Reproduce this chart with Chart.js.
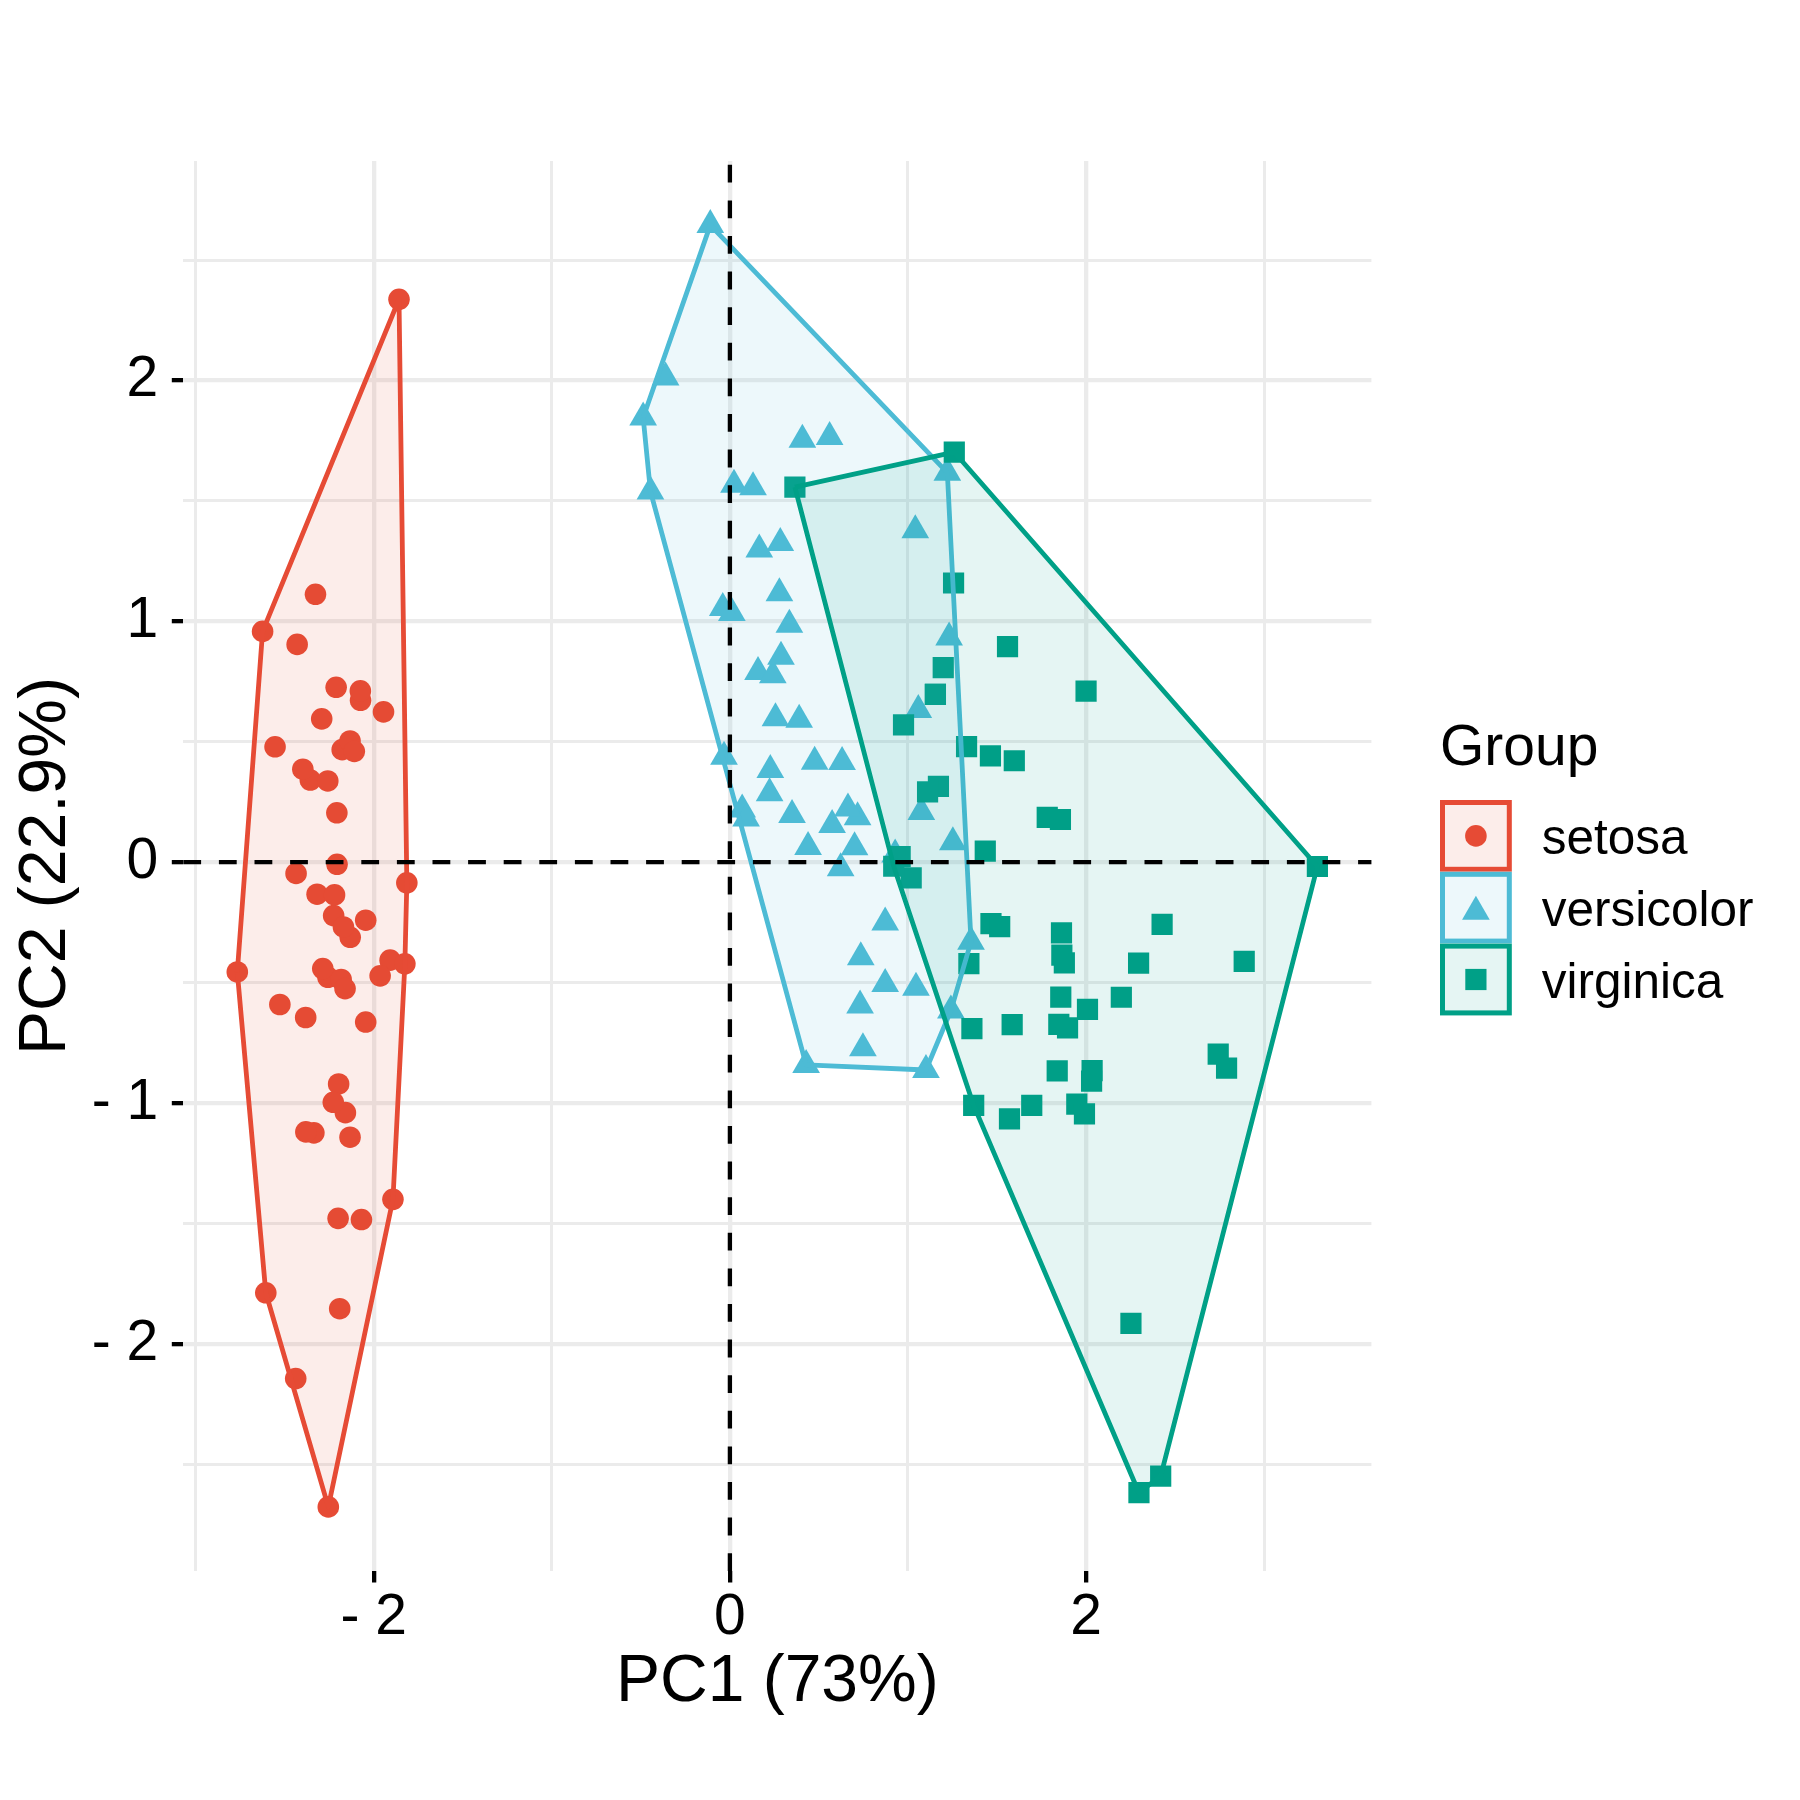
<!DOCTYPE html>
<html>
<head>
<meta charset="utf-8">
<script src="https://cdn.jsdelivr.net/npm/chart.js@4.4.0/dist/chart.umd.min.js"></script>
<style>
html,body{margin:0;padding:0;background:#ffffff;}
#c{display:block;}
</style>
</head>
<body>
<canvas id="c" width="1800" height="1800"></canvas>
<script>
// ---------------- data ----------------
const groups = ['setosa', 'versicolor', 'virginica'];

const setosaPC1 = [-2.257,-2.074,-2.356,-2.292,-2.382,-2.069,-2.436,-2.225,-2.327,-2.177,
  -2.159,-2.318,-2.211,-2.624,-2.191,-2.255,-2.200,-2.183,-1.892,-2.336,
  -1.908,-2.197,-2.766,-1.814,-2.220,-1.945,-2.045,-2.161,-2.132,-2.258,
  -2.133,-1.825,-2.606,-2.438,-2.109,-2.207,-2.045,-2.527,-2.430,-2.170,
  -2.286,-1.858,-2.554,-1.964,-2.133,-2.075,-2.381,-2.398,-2.227,-2.206];
const setosaPC2 = [-0.478,0.672,0.341,0.595,-0.645,-1.484,-0.047,-0.222,1.112,0.467,
  -1.040,-0.133,0.726,0.958,-1.854,-2.677,-1.479,-0.487,-1.400,-1.124,
  -0.407,-0.921,-0.456,-0.086,-0.136,0.624,-0.241,-0.525,-0.312,0.337,
  0.503,-0.422,-1.788,-2.144,0.460,0.205,-0.664,-0.591,0.904,-0.269,
  -0.442,2.337,0.479,-0.472,-1.142,0.711,-1.120,0.386,-0.997,-0.009];

const versicolorPC1 = [1.101,0.731,1.241,0.407,1.075,0.389,0.747,-0.487,0.928,0.011,
  -0.110,0.439,0.560,0.717,-0.033,0.872,0.349,0.158,1.221,0.165,
  0.735,0.476,1.231,0.630,0.700,0.872,1.252,1.354,0.663,-0.040,
  0.130,0.023,0.241,1.058,0.223,0.428,1.045,1.041,0.069,0.283,
  0.278,0.622,0.334,-0.361,0.287,0.091,0.227,0.574,-0.446,0.256];
const versicolorPC2 = [-0.863,-0.595,-0.616,1.754,0.208,0.591,-0.773,1.846,0.032,1.034,
  2.645,0.063,1.765,0.186,0.438,-0.506,0.196,0.789,1.617,1.298,
  -0.395,0.417,0.933,0.416,0.062,-0.251,0.083,-0.330,0.223,1.055,
  1.557,1.567,0.776,0.632,0.286,-0.842,-0.521,1.378,0.219,1.325,
  1.116,-0.025,0.986,2.012,0.853,0.181,0.383,0.154,1.539,0.597];

const virginicaPC1 = [1.838,1.154,2.198,1.434,1.862,2.742,0.365,2.295,2.000,2.252,
  1.359,1.597,1.878,1.256,1.463,1.585,1.466,2.419,3.299,1.260,
  2.031,0.975,2.888,1.329,1.695,1.948,1.171,1.018,1.782,1.858,
  2.427,2.297,1.856,1.110,1.198,2.789,1.570,1.342,0.920,1.847,
  2.008,1.896,1.154,2.034,1.991,1.864,1.559,1.515,1.369,0.956];
const virginicaPC2 = [-0.867,0.697,-0.561,0.046,-0.294,-0.797,1.557,-0.419,0.710,-1.915,
  -0.691,0.421,-0.418,1.159,0.441,-0.675,-0.255,-2.549,-0.018,1.702,
  -0.909,0.570,-0.412,0.480,-1.010,-1.005,0.315,-0.065,0.186,-0.560,
  -0.258,-2.618,0.177,0.292,0.808,-0.855,-1.066,-0.421,-0.017,-0.674,
  -0.611,-0.688,0.697,-0.866,-1.045,-0.386,0.895,-0.268,-1.010,0.023];

const xMajorTicks = [-2, 0, 2];
const xMajorLabels = ['- 2', '0', '2'];
const xMinorTicks = [-3, -1, 1, 3];
const yMajorTicks = [-2, -1, 0, 1, 2];
const yMajorLabels = ['- 2', '- 1', '0', '1', '2'];
const yMinorTicks = [-2.5, -1.5, -0.5, 0.5, 1.5, 2.5];
const refLineX = 0;
const refLineY = 0;
const xTitle = 'PC1 (73%)';
const yTitle = 'PC2 (22.9%)';
const legendTitle = 'Group';

// ---------------- styles ----------------
const FONT = "'Liberation Sans', Arial, Helvetica, sans-serif";
const colors = ['#E64B35', '#4DBBD5', '#00A087'];
const fills = ['rgba(230,75,53,0.1)', 'rgba(77,187,213,0.1)', 'rgba(0,160,135,0.1)'];
const shapes = ['circle', 'triangle', 'rect'];
const radii = [10.8, 16, 15];

const series = [[setosaPC1, setosaPC2], [versicolorPC1, versicolorPC2], [virginicaPC1, virginicaPC2]];
const pts = series.map(([xs, ys]) => xs.map((x, i) => ({x: x, y: ys[i]})));

function convexHull(points) {
  const p = points.map(d => ({x: d.x, y: d.y})).sort((a, b) => a.x - b.x || a.y - b.y);
  const cross = (o, a, b) => (a.x - o.x) * (b.y - o.y) - (a.y - o.y) * (b.x - o.x);
  const lower = [];
  for (const q of p) {
    while (lower.length >= 2 && cross(lower[lower.length - 2], lower[lower.length - 1], q) <= 0) lower.pop();
    lower.push(q);
  }
  const upper = [];
  for (let i = p.length - 1; i >= 0; i--) {
    const q = p[i];
    while (upper.length >= 2 && cross(upper[upper.length - 2], upper[upper.length - 1], q) <= 0) upper.pop();
    upper.push(q);
  }
  upper.pop(); lower.pop();
  const h = lower.concat(upper);
  h.push({x: h[0].x, y: h[0].y});
  return h;
}

// axis limits: data range expanded by 5% on each side
const allX = [].concat(setosaPC1, versicolorPC1, virginicaPC1);
const allY = [].concat(setosaPC2, versicolorPC2, virginicaPC2);
const xr = [Math.min(...allX), Math.max(...allX)];
const yr = [Math.min(...allY), Math.max(...allY)];
const xpad = (xr[1] - xr[0]) * 0.05, ypad = (yr[1] - yr[0]) * 0.05;

const datasets = [];
groups.forEach((g, i) => {
  datasets.push({
    type: 'line', label: g + ' hull', data: convexHull(pts[i]),
    borderColor: colors[i], backgroundColor: fills[i], borderWidth: 4.8,
    borderJoinStyle: 'round', fill: 'shape', tension: 0,
    pointRadius: 0, pointHoverRadius: 0, order: 2 - i
  });
  datasets.push({
    type: 'scatter', label: g, data: pts[i],
    pointStyle: shapes[i], pointRadius: radii[i], pointHoverRadius: radii[i],
    backgroundColor: colors[i], borderColor: colors[i], borderWidth: 0,
    order: 12 - i
  });
});

const isIn = (arr, v) => arr.some(a => Math.abs(a - v) < 1e-9);

const refLines = {
  id: 'refLines',
  afterDatasetsDraw(chart) {
    const {ctx, chartArea: a, scales: {x, y}} = chart;
    const px = x.getPixelForValue(refLineX), py = y.getPixelForValue(refLineY);
    ctx.save();
    ctx.strokeStyle = '#000000';
    ctx.lineWidth = 4.3;
    ctx.lineCap = 'butt';
    ctx.setLineDash([17.8, 17.8]);
    ctx.beginPath(); ctx.moveTo(a.left, py); ctx.lineTo(a.right, py); ctx.stroke();
    ctx.beginPath(); ctx.moveTo(px, a.bottom); ctx.lineTo(px, a.top); ctx.stroke();
    ctx.restore();
  }
};

const legendPlugin = {
  id: 'groupLegend',
  afterDraw(chart) {
    const {ctx, chartArea: a} = chart;
    const left = a.right + 68.6;
    const box = 71.8;
    const top0 = (a.top + a.bottom) / 2 - 66;
    ctx.save();
    ctx.fillStyle = '#000000';
    ctx.textAlign = 'left';
    ctx.textBaseline = 'alphabetic';
    ctx.font = '57px ' + FONT;
    ctx.fillText(legendTitle, left, top0 - 35);
    groups.forEach((g, i) => {
      const top = top0 + i * box;
      ctx.fillStyle = '#ffffff';
      ctx.fillRect(left, top, box, box);
      ctx.fillStyle = fills[i];
      ctx.fillRect(left, top, box, box);
      ctx.strokeStyle = colors[i];
      ctx.lineWidth = 5;
      ctx.setLineDash([]);
      ctx.strokeRect(left + 2.5, top + 2.5, box - 5, box - 5);
      ctx.fillStyle = colors[i];
      const r = radii[i];
      const cy = top + box / 2 + (shapes[i] === 'triangle' ? 4 : 0);
      Chart.helpers.drawPoint(ctx, {pointStyle: shapes[i], radius: r, rotation: 0, borderWidth: 0}, left + box / 2, cy);
      ctx.fillStyle = '#000000';
      ctx.font = '49.5px ' + FONT;
      ctx.fillText(g, left + 101.7, top + 54);
    });
    ctx.restore();
  }
};

Chart.defaults.color = '#000000';
Chart.defaults.font.family = FONT;

new Chart(document.getElementById('c'), {
  type: 'scatter',
  data: {datasets: datasets},
  plugins: [refLines, legendPlugin],
  options: {
    responsive: false,
    devicePixelRatio: 1,
    animation: false,
    events: [],
    layout: {padding: {left: 7, top: 161, right: 428.6, bottom: 78}},
    plugins: {legend: {display: false}, tooltip: {enabled: false}},
    scales: {
      x: {
        type: 'linear',
        min: xr[0] - xpad, max: xr[1] + xpad,
        afterBuildTicks: (s) => { s.ticks = [...xMinorTicks, ...xMajorTicks].sort((a, b) => a - b).map(v => ({value: v})); },
        afterFit: (s) => { s.height = 151; },
        ticks: {
          autoSkip: false, maxRotation: 0, minRotation: 0, padding: 2,
          color: '#000000', font: {family: FONT, size: 57},
          callback: (v) => { const i = xMajorTicks.indexOf(v); return i >= 0 ? xMajorLabels[i] : ''; }
        },
        grid: {
          color: '#EBEBEB',
          lineWidth: (c) => (c.tick && isIn(xMajorTicks, c.tick.value)) ? 4.3 : 3,
          tickColor: (c) => (c.tick && isIn(xMajorTicks, c.tick.value)) ? '#000000' : 'rgba(0,0,0,0)',
          tickWidth: 4.3, tickLength: 11.5, drawTicks: true
        },
        border: {display: false},
        title: {display: true, text: xTitle, color: '#000000', font: {family: FONT, size: 66}, padding: {top: 0, bottom: 0}}
      },
      y: {
        type: 'linear',
        min: yr[0] - ypad, max: yr[1] + ypad,
        afterBuildTicks: (s) => { s.ticks = [...yMinorTicks, ...yMajorTicks].sort((a, b) => a - b).map(v => ({value: v})); },
        afterFit: (s) => { s.width = 176.3; },
        ticks: {
          autoSkip: false, padding: 13.5,
          color: '#000000', font: {family: FONT, size: 57},
          callback: (v) => { const i = yMajorTicks.indexOf(v); return i >= 0 ? yMajorLabels[i] : ''; }
        },
        grid: {
          color: '#EBEBEB',
          lineWidth: (c) => (c.tick && isIn(yMajorTicks, c.tick.value)) ? 4.3 : 3,
          tickColor: (c) => (c.tick && isIn(yMajorTicks, c.tick.value)) ? '#000000' : 'rgba(0,0,0,0)',
          tickWidth: 4.3, tickLength: 11.5, drawTicks: true
        },
        border: {display: false},
        title: {display: true, text: yTitle, color: '#000000', font: {family: FONT, size: 66}, padding: {top: 0, bottom: 0}}
      }
    }
  }
});
</script>
</body>
</html>
